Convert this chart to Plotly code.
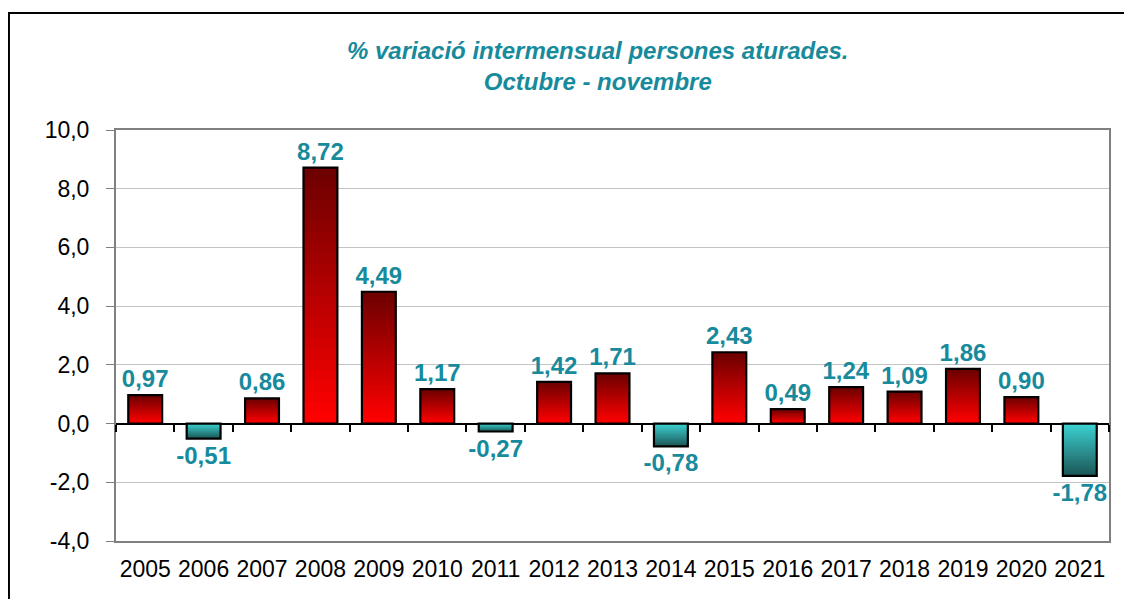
import plotly.graph_objects as go

# Data
years = ["2005", "2006", "2007", "2008", "2009", "2010", "2011", "2012", "2013",
         "2014", "2015", "2016", "2017", "2018", "2019", "2020", "2021"]
variacio = [0.97, -0.51, 0.86, 8.72, 4.49, 1.17, -0.27, 1.42, 1.71,
            -0.78, 2.43, 0.49, 1.24, 1.09, 1.86, 0.90, -1.78]
y_ticks = [-4, -2, 0, 2, 4, 6, 8, 10]
y_ticktext = ["-4,0", "-2,0", "0,0", "2,0", "4,0", "6,0", "8,0", "10,0"]

labels = [f"{v:.2f}".replace(".", ",") for v in variacio]


def mix(c1, c2, t):
    return "rgb({},{},{})".format(*[round(a + (b - a) * t) for a, b in zip(c1, c2)])


pos_near, pos_far = (255, 0, 0), (110, 0, 0)
neg_near, neg_far = (60, 208, 208), (28, 88, 88)
label_col = "#178A9C"
font = "Liberation Sans, Arial"

fig = go.Figure()

# gradient fill: overlapping bars, from full height (dark) to smallest (bright)
steps = 24
for k in range(steps):
    frac = (steps - k) / steps
    t = 1 - k / (steps - 1)
    colors = [mix(pos_near, pos_far, t) if v >= 0 else mix(neg_near, neg_far, t) for v in variacio]
    fig.add_trace(go.Bar(
        x=years, y=[v * frac for v in variacio],
        marker=dict(color=colors, line=dict(width=0)),
        width=0.58, hoverinfo="skip", showlegend=False,
    ))

# outline + labels
fig.add_trace(go.Bar(
    x=years, y=variacio, width=0.58,
    marker=dict(color="rgba(0,0,0,0)", line=dict(color="black", width=2.2)),
    text=labels, textposition="outside", cliponaxis=False, constraintext="none",
    textfont=dict(family=font, size=24, color=label_col, weight="bold"),
    showlegend=False,
))

# invisible trace carrying the tick marks on the zero line
fig.add_trace(go.Scatter(
    x=years, y=variacio, xaxis="x2", mode="markers",
    marker=dict(opacity=0), hoverinfo="skip", showlegend=False,
))

# note: page body adds an 8px offset, margins compensate for it
fig.update_layout(
    barmode="overlay",
    width=1132, height=599,
    margin=dict(l=108, r=31, t=122, b=66),
    paper_bgcolor="white", plot_bgcolor="white",
    font=dict(family=font, size=23, color="black"),
    title=dict(
        text="<b><i>% variació intermensual persones aturades.<br>Octubre - novembre</i></b>",
        x=0.521, xanchor="center", y=0.915, yanchor="middle",
        font=dict(size=24, color=label_col),
    ),
    xaxis=dict(
        range=[-0.5, 16.5],
        showgrid=False, showline=True, linecolor="#808080", linewidth=2, mirror=True,
        ticks="", tickfont=dict(size=23), ticklabelstandoff=6,
    ),
    xaxis2=dict(
        overlaying="x", matches="x", anchor="free", position=4 / 14,
        showline=False, showgrid=False, showticklabels=False,
        ticks="outside", tickson="boundaries", ticklen=7, tickcolor="black", tickwidth=1.5,
    ),
    yaxis=dict(
        range=[-4, 10], tickvals=y_ticks, ticktext=y_ticktext,
        showgrid=True, gridcolor="#C4C4C4", gridwidth=1,
        zeroline=True, zerolinecolor="black", zerolinewidth=1.5,
        showline=True, linecolor="#808080", linewidth=2, mirror=True,
        ticks="outside", ticklen=8, tickcolor="#808080",
        tickfont=dict(size=23), ticklabelstandoff=12,
    ),
)

# outer chart border
fig.add_shape(type="rect", xref="paper", yref="paper",
              x0=-0.1078, x1=1.2, y0=-0.3, y1=1.2847,
              line=dict(color="black", width=2), layer="above")

fig.write_html("out.html")
